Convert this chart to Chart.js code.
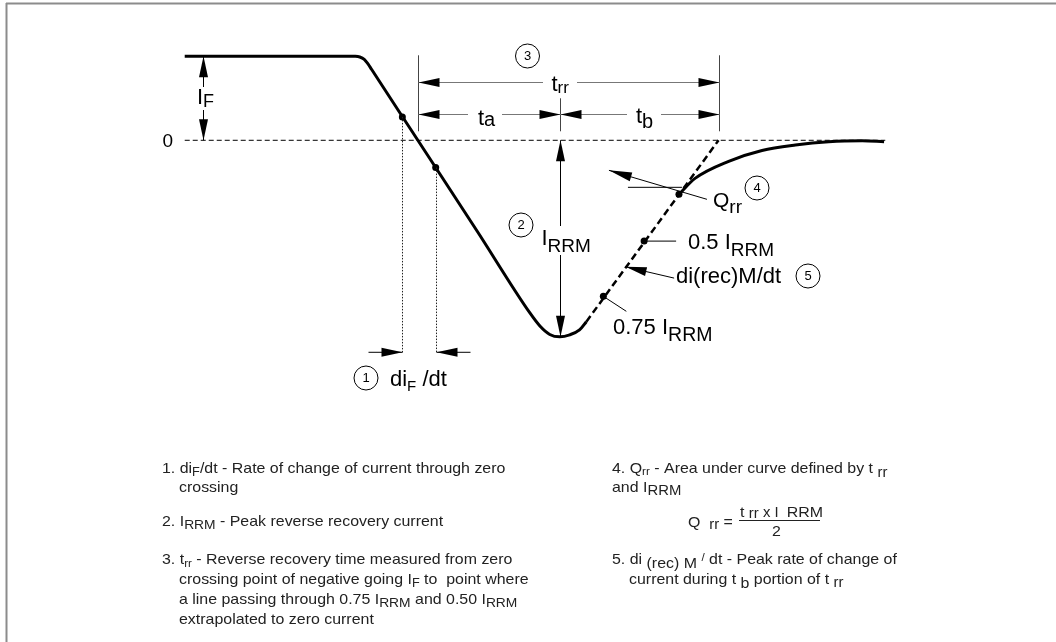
<!DOCTYPE html>
<html>
<head>
<meta charset="utf-8">
<script src="https://cdn.jsdelivr.net/npm/chart.js@4.4.0/dist/chart.umd.min.js"></script>
<style>
    html, body { margin: 0; padding: 0; background: #fff; }
    canvas { display: block; }
</style>
</head>
<body>
<canvas id="recoveryChart" width="1056" height="642"></canvas>
<script>
// time in ns (0 = zero crossing), current in A (I_RRM taken as 10 A)
const fallTime    = [-78.3, -21, -19.5, -18, -16.8, -15.5, 0, 20, 37.7, 41, 44.3, 47.7, 51, 54.3, 56.6];
const fallCurrent = [4.27, 4.27, 4.24, 4.12, 3.9, 3.6, 0, -4.64, -8.8, -9.45, -9.88, -10, -9.9, -9.65, -9.23];
const extrapTime    = [56.6, 101];
const extrapCurrent = [-9.23, 0];
const recoveryTime    = [87.7, 93.1, 104.4, 115.6, 126.8, 138, 149.3, 156.6];
const recoveryCurrent = [-2.75, -1.94, -1.07, -0.52, -0.24, -0.07, -0.02, -0.07];
const zeroTime    = [-78.3, 157];
const zeroCurrent = [0, 0];
const difTime    = [-5.2, 6.0];
const difCurrent = [1.19, -1.39];
const markTime    = [62.3, 76.0, 87.7];      // 0.75 I_RRM, 0.5 I_RRM, Qrr end
const markCurrent = [-7.94, -5.13, -2.75];
const I_F = 4.27;
const I_RRM = 10;
const T_A = 47.7;
const T_RR = 101;

const FONT = '"Liberation Sans", Arial, Helvetica, sans-serif';
const pts = (xs, ys) => xs.map((v, i) => ({ x: v, y: ys[i] }));

function line(ctx, x1, y1, x2, y2) {
    ctx.beginPath();
    ctx.moveTo(x1, y1);
    ctx.lineTo(x2, y2);
    ctx.stroke();
}

// filled arrow head, tip at (x, y), pointing along (dx, dy)
function head(ctx, x, y, dx, dy, len = 21, half = 4.5) {
    const n = Math.hypot(dx, dy);
    dx /= n; dy /= n;
    const bx = x - dx * len, by = y - dy * len;
    ctx.beginPath();
    ctx.moveTo(x, y);
    ctx.lineTo(bx - dy * half, by + dx * half);
    ctx.lineTo(bx + dy * half, by - dx * half);
    ctx.closePath();
    ctx.fill();
}

// parts: [text, size, dy]; sx stretches the run horizontally
function rich(ctx, x, y, parts, sx = 1) {
    ctx.save();
    ctx.translate(x, y);
    ctx.scale(sx, 1);
    let cx = 0;
    parts.forEach(p => {
        ctx.font = `${p[1]}px ${FONT}`;
        ctx.fillText(p[0], cx, p[2] || 0);
        cx += ctx.measureText(p[0]).width;
    });
    ctx.restore();
    return cx * sx;
}

function badge(ctx, x, y, n) {
    ctx.lineWidth = 1;
    ctx.beginPath();
    ctx.arc(x, y, 12, 0, Math.PI * 2);
    ctx.stroke();
    ctx.font = `13px ${FONT}`;
    ctx.textAlign = 'center';
    ctx.textBaseline = 'middle';
    ctx.fillText(String(n), x, y + 0.5);
    ctx.textAlign = 'left';
    ctx.textBaseline = 'alphabetic';
}

const notes = [
    [162, 472.5, [['1. di', 15], ['F', 12, 3], ['/dt - Rate of change of current through zero', 15]]],
    [179, 491.5, [['crossing', 15]]],
    [162, 526, [['2. I', 15], ['RRM', 13, 3], [' - Peak reverse recovery current', 15]]],
    [162, 563.5, [['3. t', 15], ['rr', 11, 3], [' - Reverse recovery time measured from zero', 15]]],
    [179, 583.5, [['crossing point of negative going I', 15], ['F', 12, 3], [' to  point where', 15]]],
    [179, 603.5, [['a line passing through 0.75 I', 15], ['RRM', 13, 3], [' and 0.50 I', 15], ['RRM', 13, 3]]],
    [179, 623.5, [['extrapolated to zero current', 15]]],
    [612, 472.5, [['4. Q', 15], ['rr', 11, 2], [' - Area under curve defined by t ', 15], ['rr', 14, 4]]],
    [612, 491.5, [['and I', 15], ['RRM', 14, 3]]],
    [688, 526.5, [['Q  ', 15], ['rr', 14, 2], [' =', 15]]],
    [740, 516.5, [['t ', 15], ['rr', 14, 1], [' x I  ', 14], ['RRM', 15]]],
    [772, 536, [['2', 15]]],
    [612, 563.5, [['5. di ', 15], ['(rec) M', 15, 4], [' ', 15], ['/', 11, -3], [' dt - Peak rate of change of', 15]]],
    [629, 583.5, [['current during t ', 15], ['b', 15, 4], [' portion of t ', 15], ['rr', 14, 3]]]
];

const recoveryNotes = {
    id: 'recoveryNotes',
    beforeDraw(chart) {
        const { ctx } = chart;
        ctx.save();
        ctx.fillStyle = '#fff';
        ctx.fillRect(0, 0, chart.width, chart.height);
        ctx.strokeStyle = '#8c8c8c';
        ctx.lineWidth = 2;
        line(ctx, 6.5, 3, 6.5, chart.height);
        line(ctx, 6, 3.5, chart.width, 3.5);
        ctx.restore();
    },
    afterDatasetsDraw(chart) {
        const { ctx, scales } = chart;
        const X = v => scales.x.getPixelForValue(v);
        const Y = v => scales.y.getPixelForValue(v);
        const x0 = Math.round(X(0)) + 0.5, xa = Math.round(X(T_A)) + 0.5, xrr = Math.round(X(T_RR)) + 0.5;
        const y0 = Y(0), yF = Y(I_F), yR = Y(-I_RRM);
        const xF = Math.round(X(-72.3)) + 0.5;
        const yRR = Math.round(y0 - 58) + 0.5, yAB = Math.round(y0 - 26) + 0.5;

        ctx.save();
        ctx.fillStyle = '#000';
        ctx.lineWidth = 1;

        // extension lines
        ctx.strokeStyle = '#444';
        line(ctx, x0, y0 - 85, x0, y0 - 9);
        line(ctx, xrr, y0 - 85, xrr, y0 - 9);
        line(ctx, xa, y0 - 42, xa, y0 - 9);

        // t_rr, t_a, t_b dimension lines
        ctx.strokeStyle = '#777';
        line(ctx, x0, yRR, xrr, yRR);
        line(ctx, x0, yAB, xrr, yAB);
        ctx.fillStyle = '#fff';
        ctx.fillRect(543, yRR - 3, 34, 6);
        ctx.fillRect(468, yAB - 3, 34, 6);
        ctx.fillRect(627, yAB - 3, 34, 6);
        ctx.fillStyle = '#000';
        head(ctx, x0, yRR, -1, 0); head(ctx, xrr, yRR, 1, 0);
        head(ctx, x0, yAB, -1, 0); head(ctx, xa, yAB, 1, 0);
        head(ctx, xa, yAB, -1, 0); head(ctx, xrr, yAB, 1, 0);
        rich(ctx, 551.5, yRR + 8.5, [['t', 22], ['rr', 17, 2]]);
        rich(ctx, 478, yAB + 10, [['t', 22], ['a', 20, 1.5]]);
        rich(ctx, 636, yAB + 8.5, [['t', 22], ['b', 20, 4.5]]);

        // I_F arrow
        ctx.strokeStyle = '#000';
        line(ctx, xF, yF, xF, 87);
        line(ctx, xF, 110, xF, y0);
        head(ctx, xF, yF, 0, -1); head(ctx, xF, y0, 0, 1);
        rich(ctx, 197, 103.5, [['I', 22], ['F', 18, 3.5]]);

        // zero label
        ctx.font = `19px ${FONT}`;
        ctx.textAlign = 'right';
        ctx.textBaseline = 'middle';
        ctx.fillText('0', 173, y0 + 1);
        ctx.textAlign = 'left';
        ctx.textBaseline = 'alphabetic';

        // I_RRM arrow
        line(ctx, xa, y0, xa, 226);
        line(ctx, xa, 255, xa, yR);
        head(ctx, xa, y0, 0, -1); head(ctx, xa, yR, 0, 1);
        rich(ctx, 541.5, 245, [['I', 22], ['RRM', 19, 7]]);

        // di_F/dt construction
        const d1 = Math.round(X(difTime[0])) + 0.5, d2 = Math.round(X(difTime[1])) + 0.5;
        const yDim = y0 + 212;
        ctx.strokeStyle = '#222';
        ctx.setLineDash([1.5, 1.5]);
        line(ctx, d1, Y(difCurrent[0]), d1, yDim);
        line(ctx, d2, Y(difCurrent[1]), d2, yDim);
        ctx.setLineDash([]);
        ctx.strokeStyle = '#000';
        line(ctx, d1 - 34, yDim, d1, yDim);
        line(ctx, d2, yDim, d2 + 34, yDim);
        head(ctx, d1, yDim, 1, 0); head(ctx, d2, yDim, -1, 0);
        rich(ctx, 390, 386, [['di', 22], ['F', 15, 4.5], [' /dt', 22]]);

        // leaders on the recovery side
        const m75x = X(markTime[0]), m75y = Y(markCurrent[0]);
        const m50x = X(markTime[1]), m50y = Y(markCurrent[1]);
        const mqx = X(markTime[2]), mqy = Y(markCurrent[2]);
        line(ctx, m75x, m75y, m75x + 23, m75y + 15);
        line(ctx, m50x, m50y, m50x + 32, m50y);
        line(ctx, m50x + 30, m50y + 37, m50x - 18.5, m50y + 25.7);
        head(ctx, m50x - 18.5, m50y + 25.7, -48.5, -11.3, 21, 4.5);
        line(ctx, mqx + 28, mqy + 5, mqx - 70, mqy - 24);
        head(ctx, mqx - 70, mqy - 24, -98, -29, 23, 4.5);
        line(ctx, mqx - 51, mqy - 7, mqx + 3, mqy - 7);

        rich(ctx, 713, 207, [['Q', 21], ['rr', 19, 6]]);
        rich(ctx, 688, 249, [['0.5 I', 22], ['RRM', 19, 7]]);
        rich(ctx, 676, 283, [['di(rec)M/dt', 22]]);
        rich(ctx, 613, 334, [['0.75 I', 22], ['RRM', 19.5, 6.5]]);

        // numbered badges
        ctx.strokeStyle = '#000';
        badge(ctx, 366, 378, 1);
        badge(ctx, 521, 225, 2);
        badge(ctx, 527.5, 56, 3);
        badge(ctx, 757, 188, 4);
        badge(ctx, 808, 276, 5);

        // explanatory notes
        ctx.fillStyle = '#222';
        notes.forEach(n => rich(ctx, n[0], n[1], n[2], 1.062));
        ctx.fillRect(739, 520, 81, 1);

        ctx.restore();
    }
};

const ctx = document.getElementById('recoveryChart').getContext('2d');

new Chart(ctx, {
    type: 'scatter',
    data: {
        datasets: [
            {
                label: 'zero',
                data: pts(zeroTime, zeroCurrent),
                showLine: true,
                borderColor: '#000',
                borderWidth: 1,
                borderDash: [5, 3],
                pointRadius: 0
            },
            {
                label: 'fall',
                data: pts(fallTime, fallCurrent),
                showLine: true,
                borderColor: '#000',
                borderWidth: 3,
                cubicInterpolationMode: 'monotone',
                pointRadius: 0
            },
            {
                label: 'extrapolation',
                data: pts(extrapTime, extrapCurrent),
                showLine: true,
                borderColor: '#000',
                borderWidth: 2.5,
                borderDash: [7, 4],
                pointRadius: 0
            },
            {
                label: 'recovery',
                data: pts(recoveryTime, recoveryCurrent),
                showLine: true,
                borderColor: '#000',
                borderWidth: 3,
                cubicInterpolationMode: 'monotone',
                pointRadius: 0
            },
            {
                label: 'diF points',
                data: pts(difTime, difCurrent),
                pointRadius: 3.5,
                pointBackgroundColor: '#000',
                pointBorderWidth: 0
            },
            {
                label: 'marks',
                data: pts(markTime, markCurrent),
                pointRadius: 3.5,
                pointBackgroundColor: '#000',
                pointBorderWidth: 0
            }
        ]
    },
    options: {
        responsive: false,
        animation: false,
        events: [],
        layout: { padding: 0 },
        plugins: {
            legend: { display: false },
            tooltip: { enabled: false }
        },
        scales: {
            x: { type: 'linear', min: -139, max: 213, display: false },
            y: { type: 'linear', min: -25.327, max: 6.935, display: false }
        }
    },
    plugins: [recoveryNotes]
});
</script>
</body>
</html>
